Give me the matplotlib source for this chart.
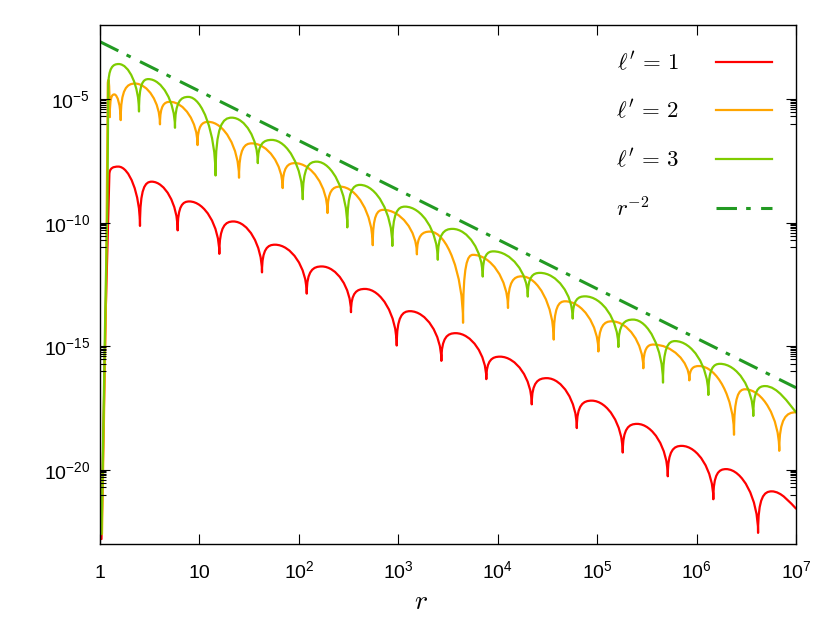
import matplotlib
matplotlib.use('Agg')
import matplotlib.pyplot as plt
from matplotlib.path import Path
from matplotlib.patches import PathPatch
from matplotlib.lines import Line2D
from matplotlib.ticker import FixedLocator, NullLocator, NullFormatter

plt.rcParams['font.family'] = ['Liberation Sans', 'DejaVu Sans']
plt.rcParams['mathtext.fontset'] = 'cm'

# values, stored as exponents: log10(r), log10(value)
# steep climb out of the bottom close to r = 1
l1_rise_r = [0.015, 0.055]
l1_rise_y = [-22.80, -13.92]
# turning points: foot of the climb, then maxima and minima in turn
l1_turn_r = [0.094, 0.184, 0.402, 0.520, 0.781, 0.898, 1.200, 1.341, 1.629, 1.760,
             2.079, 2.230, 2.524, 2.665, 2.984, 3.118, 3.433, 3.577, 3.885, 4.023,
             4.342, 4.493, 4.795, 4.945, 5.257, 5.401, 5.710, 5.850, 6.168, 6.296,
             6.618, 6.755, 7.0]
l1_turn_y = [-8.07, -7.73, -10.13, -8.34, -10.31, -9.14, -11.26, -9.95, -12.01, -10.89,
             -12.87, -11.77, -13.62, -12.68, -14.97, -13.58, -15.59, -14.47, -16.33, -15.42,
             -17.35, -16.29, -18.31, -17.20, -19.30, -18.14, -20.26, -19.03, -21.19, -19.97,
             -22.55, -20.87, -21.57]

l2_rise_r = [0.020, 0.060]
l2_rise_y = [-22.60, -13.11]
l2_turn_r = [0.078, 0.085, 0.098, 0.144, 0.208, 0.352, 0.603, 0.704, 0.981, 1.089,
             1.398, 1.526, 1.837, 1.961, 2.288, 2.414, 2.743, 2.849, 3.187, 3.319,
             3.651, 3.751, 4.103, 4.241, 4.563, 4.677, 5.012, 5.146, 5.464, 5.565,
             5.927, 6.024, 6.376, 6.487, 6.831, 7.0]
l2_turn_y = [-4.48, -4.23, -5.73, -4.81, -5.85, -4.37, -6.02, -5.11, -6.86, -5.92,
             -8.18, -6.79, -8.60, -7.59, -9.61, -8.54, -10.91, -9.48, -11.28, -10.36,
             -14.05, -11.30, -13.45, -12.17, -14.73, -13.18, -15.21, -13.99, -15.89, -14.93,
             -16.38, -15.80, -18.58, -16.74, -19.23, -17.67]

l3_rise_r = [0.015, 0.055, 0.075]
l3_rise_y = [-22.60, -13.11, -9.08]
l3_turn_r = [0.083, 0.188, 0.392, 0.486, 0.754, 0.888, 1.162, 1.325, 1.587, 1.727,
             2.039, 2.179, 2.487, 2.615, 2.940, 3.067, 3.397, 3.545, 3.849, 3.956,
             4.302, 4.425, 4.754, 4.878, 5.213, 5.361, 5.662, 5.783, 6.118, 6.236,
             6.570, 6.688, 7.0]
l3_turn_y = [-4.56, -3.58, -5.50, -4.19, -6.16, -4.91, -8.09, -5.75, -7.59, -6.65,
             -9.05, -7.53, -10.19, -8.47, -10.94, -9.35, -11.50, -10.25, -12.18, -11.16,
             -12.99, -12.03, -13.88, -12.98, -15.03, -13.92, -16.47, -14.79, -16.97, -15.71,
             -17.82, -16.61, -17.67]

# r^-2 guide line
ref_r = [1.0, 1.0e7]
ref_y = [2.1e-3, 2.1e-17]

xtick_exp = [0, 1, 2, 3, 4, 5, 6, 7]
ytick_exp = [-20, -15, -10, -5]
labels = [r"$\ell'\,=\,1$", r"$\ell'\,=\,2$", r"$\ell'\,=\,3$", r"$r^{-2}$"]


def arches(rise_r, rise_y, turn_r, turn_y, open_end):
    # straight climb, then smooth arcs between the turning points
    verts = [(10 ** rise_r[0], 10 ** rise_y[0])]
    codes = [Path.MOVETO]
    for x, y in zip(rise_r[1:] + turn_r[:1], rise_y[1:] + turn_y[:1]):
        verts.append((10 ** x, 10 ** y))
        codes.append(Path.LINETO)
    n = len(turn_r)
    for i in range(n - 1):
        x0, y0, x1, y1 = turn_r[i], turn_y[i], turn_r[i + 1], turn_y[i + 1]
        w, h = x1 - x0, y1 - y0
        if open_end and i == n - 2:
            c1, c2 = (x0 + 0.4 * w, y0), (x1 - 0.25 * w, y1 - 0.35 * h)
        elif h > 0:
            c1, c2 = (x0, y0 + 0.88 * h), (x1 - 0.55 * w, y1)
        else:
            c1, c2 = (x0 + 0.5 * w, y0), (x1, y1 - 0.55 * h)
        for x, y in (c1, c2, (x1, y1)):
            verts.append((10 ** x, 10 ** y))
            codes.append(Path.CURVE4)
    return Path(verts, codes)


fig = plt.figure(figsize=(8.3, 6.23), dpi=100)
ax = fig.add_axes([0.1205, 0.1268, 0.8386, 0.8331])
ax.set_xscale('log')
ax.set_yscale('log')
ax.set_xlim(1, 1e7)
ax.set_ylim(1e-23, 1e-2)

colors = ['#ff0000', '#ffa500', '#7fcc00']
curves = [(l1_rise_r, l1_rise_y, l1_turn_r, l1_turn_y, True),
          (l2_rise_r, l2_rise_y, l2_turn_r, l2_turn_y, False),
          (l3_rise_r, l3_rise_y, l3_turn_r, l3_turn_y, True)]
handles = []
for c, args in zip(colors, curves):
    ax.add_patch(PathPatch(arches(*args), fill=False, edgecolor=c, lw=1.6,
                           joinstyle='round', capstyle='round'))
    handles.append(Line2D([], [], color=c, lw=1.6))

dash = (0, (6.7, 3.0, 1.5, 3.4))
ref_line, = ax.plot(ref_r, ref_y, color='#229a22', lw=2.2, linestyle=dash)
handles.append(ref_line)

ax.set_xticks([10.0 ** e for e in xtick_exp])
ax.set_xticklabels(['1' if e == 0 else '10' if e == 1 else r'$\mathregular{10^{%d}}$' % e
                    for e in xtick_exp])
ax.xaxis.set_minor_locator(NullLocator())
ax.set_yticks([10.0 ** e for e in ytick_exp])
ax.set_yticklabels([r'$\mathregular{10^{%d}}$' % e for e in ytick_exp])
ax.yaxis.set_minor_locator(FixedLocator([k * 10.0 ** (e - 1) for e in ytick_exp for k in range(1, 10)]))
ax.yaxis.set_minor_formatter(NullFormatter())

ax.tick_params(which='both', direction='in', top=True, right=True, width=0.8)
ax.tick_params(which='major', length=7, labelsize=14)
ax.tick_params(which='minor', length=4)
ax.tick_params(axis='x', pad=24.5)
ax.tick_params(axis='y', pad=7)
for lbl in ax.get_xticklabels():
    lbl.set_va('baseline')
for s in ax.spines.values():
    s.set_linewidth(1.0)

ax.set_xlabel('$r$', fontsize=20)
ax.xaxis.set_label_coords(0.461, -0.087)

leg = ax.legend(handles, labels, loc='upper right', bbox_to_anchor=(0.9655, 0.949),
                frameon=False, markerfirst=False, fontsize=16.5, handlelength=2.45,
                handletextpad=1.6, labelspacing=1.1, borderpad=0, borderaxespad=0)

# legend texts sit flush left: widen the gap after the short r^-2 label
renderer = fig.canvas.get_renderer()
widths = [t.get_window_extent(renderer).width for t in leg.get_texts()]
items = leg._legend_handle_box.get_children()[0].get_children()
items[3].sep += (max(widths) - widths[3]) * 72.0 / fig.dpi

fig.savefig('out.png', dpi=100)
